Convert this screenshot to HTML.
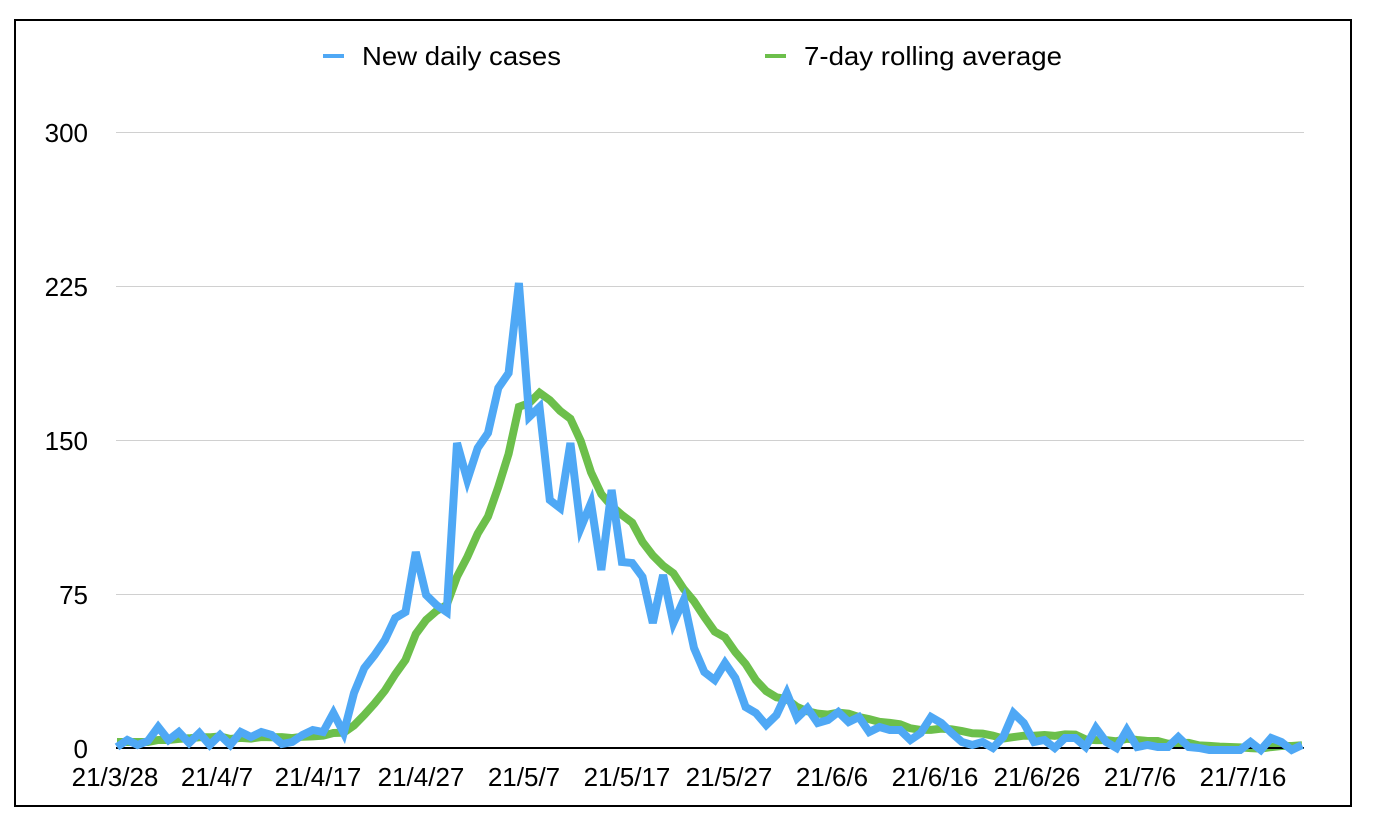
<!DOCTYPE html>
<html><head><meta charset="utf-8"><style>
html,body{margin:0;padding:0;background:#fff;}
svg{display:block;font-family:"Liberation Sans",Arial,sans-serif;}
</style></head><body>
<svg id="s" width="1374" height="832" viewBox="0 0 1374 832" xmlns="http://www.w3.org/2000/svg">
<rect x="0" y="0" width="1374" height="832" fill="#fff"/>
<rect x="15" y="20" width="1336" height="786" fill="none" stroke="#000" stroke-width="2"/>
<g stroke="#d0d0d0" stroke-width="1">
<line x1="116" x2="1304" y1="132.5" y2="132.5"/>
<line x1="116" x2="1304" y1="286.5" y2="286.5"/>
<line x1="116" x2="1304" y1="440.5" y2="440.5"/>
<line x1="116" x2="1304" y1="594.5" y2="594.5"/>
</g>
<g font-size="26" fill="#000" text-anchor="end">
<text x="88" y="142">300</text>
<text x="88" y="296">225</text>
<text x="88" y="450">150</text>
<text x="88" y="604">75</text>
<text x="88" y="758">0</text>
</g>
<g font-size="26" fill="#000" text-anchor="middle">
<text x="115" y="786">21/3/28</text>
<text x="217" y="786">21/4/7</text>
<text x="318" y="786">21/4/17</text>
<text x="421" y="786">21/4/27</text>
<text x="524" y="786">21/5/7</text>
<text x="627" y="786">21/5/17</text>
<text x="729" y="786">21/5/27</text>
<text x="832" y="786">21/6/6</text>
<text x="935" y="786">21/6/16</text>
<text x="1037" y="786">21/6/26</text>
<text x="1140" y="786">21/7/6</text>
<text x="1243" y="786">21/7/16</text>
</g>
<line x1="323" x2="344" y1="56" y2="56" stroke="#4fa8f5" stroke-width="4"/>
<text x="362" y="65" font-size="26" fill="#000" textLength="199" lengthAdjust="spacingAndGlyphs">New daily cases</text>
<line x1="765" x2="786" y1="56" y2="56" stroke="#6cbf4b" stroke-width="4"/>
<text x="804" y="65" font-size="26" fill="#000" textLength="258" lengthAdjust="spacingAndGlyphs">7-day rolling average</text>
<polyline id="g" fill="none" stroke="#6cbf4b" stroke-width="8" stroke-linejoin="miter"/>
<line x1="116" x2="1304" y1="748" y2="748" stroke="#000" stroke-width="2"/>
<polyline id="b" fill="none" stroke="#4fa8f5" stroke-width="8" stroke-linejoin="miter"/>
</svg>
<script>
var by=[747,740,745,741,727,740,732,743,733,745,735,745,732,737,732,735,744,742,735,730,732,713,733,693,668,655,640,618,612,552,595,605,612,
443,480,448,433,388,373,283,417,407,500,508,443,528,503,570,490,562,563,577,623,575,623,600,648,
672,680,663,678,707,713,725,715,693,718,708,723,720,712,722,717,732,727,730,730,740,733,717,723,733,742,745,742,748,737,713,
723,742,740,748,738,738,747,728,742,748,730,747,745,747,747,737,747,748,750,750,750,750,742,750,738,742,750,745];
var x0=117,dx=(1302-117)/(by.length-1);
var bp=[],gp=[];
for(var i=0;i<by.length;i++){
 var x=x0+i*dx;bp.push(x.toFixed(1)+","+by[i]);
 var s=0,n=0;for(var j=Math.max(0,i-6);j<=i;j++){s+=748-by[j];n++;}
 var v=s/n; if(i<6) v=Math.max(v,6);
 gp.push(x.toFixed(1)+","+(748-v).toFixed(1));
}
document.getElementById('b').setAttribute('points',bp.join(' '));
document.getElementById('g').setAttribute('points',gp.join(' '));
</script>
</body></html>
